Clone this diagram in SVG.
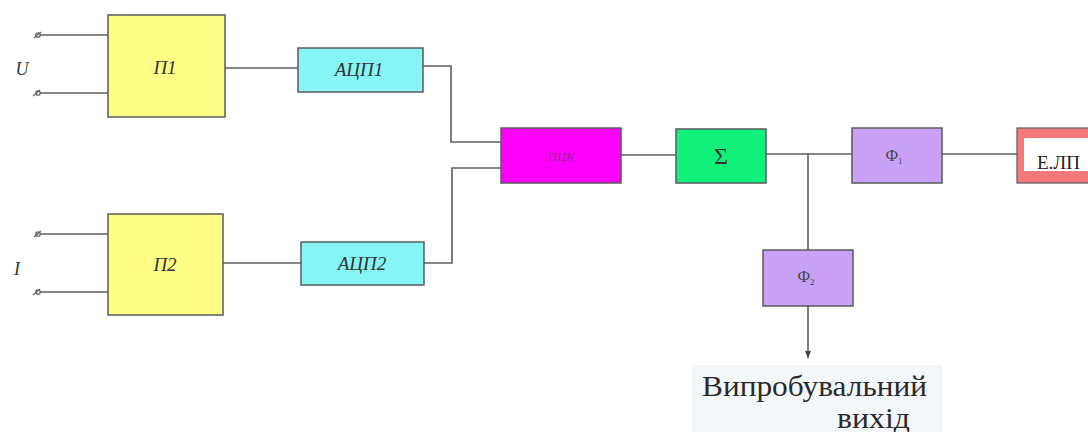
<svg xmlns="http://www.w3.org/2000/svg" width="1088" height="432" viewBox="0 0 1088 432">
<defs>
<style>
.box{stroke:#5a5a5a;stroke-width:1.5}
.w{fill:none;stroke:#5e5e5e;stroke-width:1.6}
.lbl{font-family:"Liberation Serif",serif;font-style:italic;font-size:19px;fill:#333;text-anchor:middle}
.term{fill:none;stroke:#666;stroke-width:1.3}
</style>
<marker id="arr" markerWidth="8" markerHeight="8" refX="7" refY="4" orient="auto" markerUnits="userSpaceOnUse">
<path d="M0,1 L7,4 L0,7 Z" fill="#444"/>
</marker>
</defs>
<rect width="1088" height="432" fill="#ffffff"/>
<rect x="692" y="365" width="250" height="67" fill="#f3f7fa"/>

<g id="connectors">
<path class="w" d="M40,35 H108 M40,93 H108"/>
<path class="w" d="M40,234 H108 M40,292 H108"/>
<path class="w" d="M225,68 H298"/>
<path class="w" d="M223,263 H301"/>
<path class="w" d="M423,66 H451 V142 H501"/>
<path class="w" d="M424,263 H452 V168 H501"/>
<path class="w" d="M621,155 H676"/>
<path class="w" d="M766,154 H852"/>
<path class="w" d="M808,154 V250"/>
<path class="w" d="M942,154 H1017"/>
<path class="w" d="M808,306 V358" marker-end="url(#arr)"/>
<path class="term" d="M34,38 L41,32 M33,96 L40,90 M34,237 L41,231 M33,295 L40,289"/>
<circle class="term" cx="38" cy="35" r="2.2"/>
<circle class="term" cx="38" cy="93" r="2.2"/>
<circle class="term" cx="38" cy="234" r="2.2"/>
<circle class="term" cx="38" cy="292" r="2.2"/>
</g>

<text x="22" y="75" class="lbl" style="font-size:18px">U</text>
<text x="17" y="275" class="lbl" style="font-size:18px">I</text>

<g id="P1">
<rect class="box" x="108" y="15" width="117" height="102" fill="#fdfd86"/>
<text x="165" y="74" class="lbl">П1</text>
</g>
<g id="P2">
<rect class="box" x="108" y="214" width="115" height="101" fill="#fdfd86"/>
<text x="165" y="271" class="lbl">П2</text>
</g>
<g id="ADC1">
<rect class="box" x="298" y="48" width="125" height="44" fill="#85f5f5"/>
<text x="359" y="76" class="lbl">АЦП1</text>
</g>
<g id="ADC2">
<rect class="box" x="301" y="242" width="123" height="43" fill="#85f5f5"/>
<text x="362" y="270" class="lbl">АЦП2</text>
</g>
<g id="PCK">
<rect class="box" x="501" y="128" width="120" height="55" fill="#ff00ff"/>
<text x="561" y="161" class="lbl" style="font-size:13px;fill:#a020a0">ПЦК</text>
</g>
<g id="Sum">
<rect class="box" x="676" y="129" width="90" height="54" fill="#10f07a"/>
<text x="721" y="164" style="font-family:'Liberation Serif',serif;font-size:24px;fill:#333;text-anchor:middle">Σ</text>
</g>
<g id="F1">
<rect class="box" x="852" y="128" width="90" height="55" fill="#c9a2f7"/>
<text x="894" y="161" style="font-family:'Liberation Serif',serif;font-size:16px;fill:#444;text-anchor:middle">Ф<tspan font-size="9" dy="3">1</tspan></text>
</g>
<g id="F2">
<rect class="box" x="763" y="250" width="90" height="56" fill="#c9a2f7"/>
<text x="806" y="282" style="font-family:'Liberation Serif',serif;font-size:16px;fill:#444;text-anchor:middle">Ф<tspan font-size="9" dy="3">2</tspan></text>
</g>
<g id="ELP">
<rect x="1017" y="128" width="90" height="55" fill="#f27a7a" stroke="#666" stroke-width="1.3"/>
<rect x="1024" y="138" width="80" height="33" fill="#ffffff"/>
<text x="1037" y="169" style="font-family:'Liberation Serif',serif;font-size:19px;fill:#222">Е.ЛП</text>
</g>
<g id="output-label" style="font-family:'Liberation Serif',serif;fill:#2a2a2a">
<text x="702" y="396" font-size="29" textLength="225" lengthAdjust="spacingAndGlyphs">Випробувальний</text>
<text x="837" y="428" font-size="29" textLength="73" lengthAdjust="spacingAndGlyphs">вихід</text>
</g>
</svg>
